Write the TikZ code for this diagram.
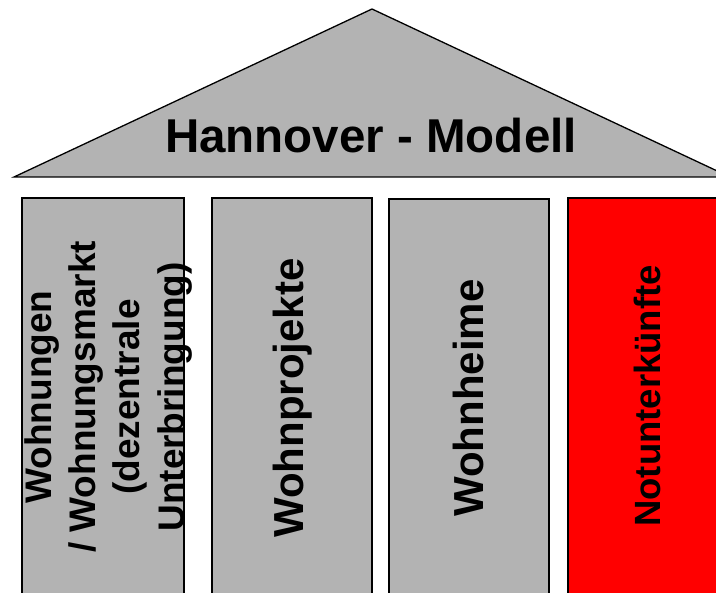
\documentclass[tikz,border=0pt]{standalone}
\usepackage{fontspec}
\setmainfont{Liberation Sans}
\definecolor{pillargray}{RGB}{179,179,179}
\definecolor{pillarred}{RGB}{255,0,0}
\begin{document}
\begin{tikzpicture}[x=1pt,y=-1pt,
  roofstyle/.style={draw=black,line width=1.3pt,fill=pillargray,line join=miter},
  pillarbox/.style={draw=black,line width=1.6pt,minimum width=161pt,minimum height=420pt,anchor=north west,inner sep=0pt},
  vlabel/.style={rotate=90,anchor=base,inner sep=0pt,text=black}
]
\useasboundingbox (0,0) rectangle (716,593);
\begin{scope}
\clip (0,0) rectangle (716,593);
\draw[roofstyle] (14,177) -- (372,9) -- (730,177) -- cycle;
\node[anchor=base,inner sep=0pt,font=\fontsize{47.5}{57}\selectfont\bfseries] (title) at (371,153) {Hannover - Modell};
\node[pillarbox,fill=pillargray,minimum width=162pt] (p1) at (21,197) {};
\node[pillarbox,fill=pillargray,minimum width=160pt] (p2) at (211,197) {};
\node[pillarbox,fill=pillargray,minimum width=160pt] (p3) at (388,198) {};
\node[pillarbox,fill=pillarred] (p4) at (567,197) {};
\node[vlabel,align=center,font=\fontsize{37}{44.3}\selectfont\bfseries] (t1) at (184,397) {Wohnungen\\/ Wohnungsmarkt\\(dezentrale\\Unterbringung)};
\node[vlabel,font=\fontsize{42}{50}\selectfont\bfseries] (t2) at (303,398) {Wohnprojekte};
\node[vlabel,font=\fontsize{42}{50}\selectfont\bfseries] (t3) at (483,398) {Wohnheime};
\node[vlabel,font=\fontsize{36.5}{44}\selectfont\bfseries] (t4) at (660,396) {Notunterkünfte};
\end{scope}
\end{tikzpicture}
\end{document}
